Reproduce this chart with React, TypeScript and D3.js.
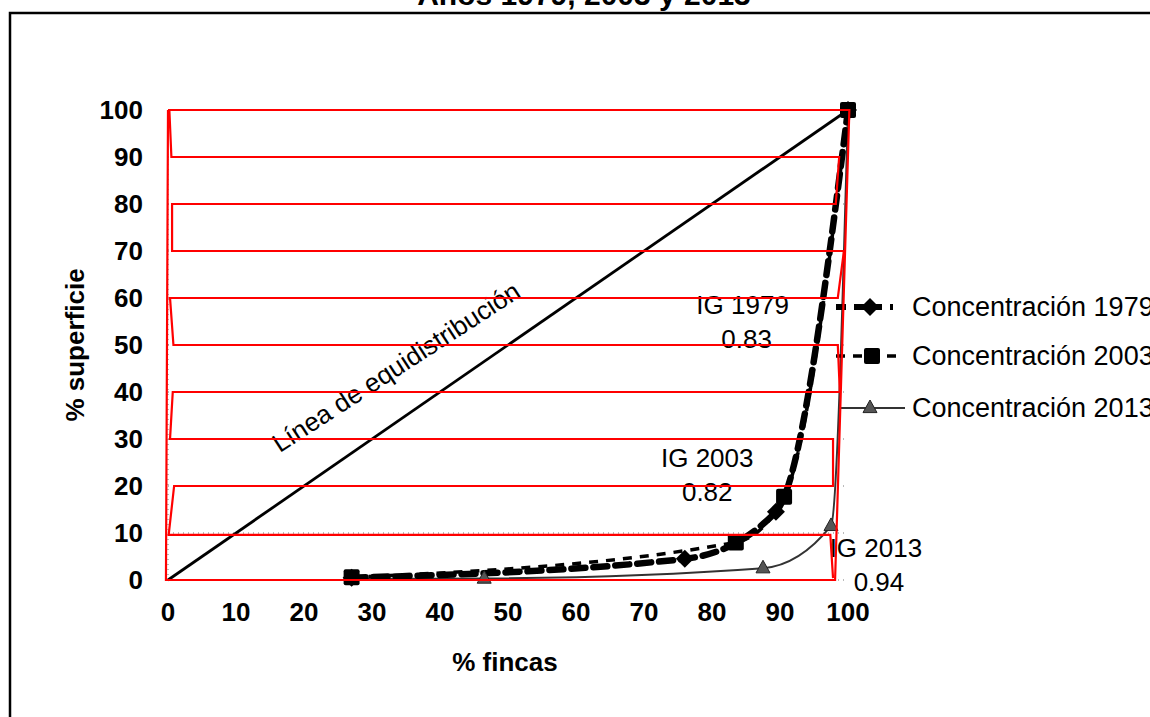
import React from 'react';
import * as d3 from 'd3';

const xTicks = [0, 10, 20, 30, 40, 50, 60, 70, 80, 90, 100];
const yTicks = [0, 10, 20, 30, 40, 50, 60, 70, 80, 90, 100];

const seriesNames = ['Concentración 1979', 'Concentración 2003', 'Concentración 2013'];
const s1979: [number, number][] = [[27, 0.5], [76, 4.5], [89.4, 14.5], [100, 100]];
const s2003: [number, number][] = [[27, 0.6], [83.5, 8], [90.6, 17.7], [100, 100]];
const s2013: [number, number][] = [[27, 0.2], [46.5, 0.3], [87.5, 2.5], [97.5, 11.5], [100, 100]];
const equidistribution: [number, number][] = [[0, 0], [100, 100]];

const giniLabels = [
  { name: 'IG 1979', value: '0.83', x: 84.5, y: 58.5 },
  { name: 'IG 2003', value: '0.82', x: 79.3, y: 26 },
  { name: 'IG 2013', value: '0.94', x: 97.3, y: 6.9 },
];

// red overlay outlines (data units)
const redOuter: [number, number][] = [[0, 100], [100.2, 100], [98.1, 0], [-0.3, 0], [0, 100]];
const redSerpentine: [number, number][] = [
  [0.2, 100], [0.5, 90], [98.7, 90], [98.2, 80], [0.6, 80], [0.6, 70], [99.4, 70],
  [98.5, 60], [0.3, 60], [0.8, 50], [98.5, 50], [98.8, 40], [0.7, 40], [0.3, 30],
  [97.8, 30], [97.8, 20], [0.9, 20], [0.1, 9.6], [97.4, 9.6], [97.8, 0.4],
];

const FONT = "Arial, 'Liberation Sans', sans-serif";

export default function App() {
  const x = d3.scaleLinear().domain([0, 100]).range([168, 848]);
  const y = d3.scaleLinear().domain([0, 100]).range([580, 110]);

  const curve = d3.line<[number, number]>().x(d => x(d[0])).y(d => y(d[1])).curve(d3.curveMonotoneX);
  const straight = d3.line<[number, number]>().x(d => x(d[0])).y(d => y(d[1]));

  const diamond = (cx: number, cy: number, r: number) =>
    `M${cx},${cy - r}L${cx + r},${cy}L${cx},${cy + r}L${cx - r},${cy}Z`;
  const tri = (cx: number, cy: number, r: number) =>
    `M${cx},${cy - r}L${cx + r},${cy + r * 0.8}L${cx - r},${cy + r * 0.8}Z`;

  const legendY = [307, 356, 408];

  return (
    <svg width={1150} height={717} style={{ position: 'absolute', left: 0, top: 0, background: '#fff' }}>
      <rect x={0} y={0} width={1150} height={717} fill="#fff" />
      <text x={584} y={5} textAnchor="middle" fontFamily={FONT} fontWeight="bold" fontSize={30}>Años 1979, 2003 y 2013</text>
      <rect x={10} y={13} width={1160} height={720} fill="none" stroke="#000" strokeWidth={2.5} />

      {/* gridlines */}
      {yTicks.map(t => (
        <line key={'g' + t} x1={x(0)} x2={x(100)} y1={y(t)} y2={y(t)} stroke="#777" strokeWidth={1} strokeDasharray="1,4" />
      ))}
      <line x1={x(0)} x2={x(0)} y1={y(0)} y2={y(100)} stroke="#777" strokeWidth={1} strokeDasharray="1,4" />

      {/* tick labels */}
      {yTicks.map(t => (
        <text key={'y' + t} x={143} y={y(t) + 9} textAnchor="end" fontFamily={FONT} fontWeight="bold" fontSize={26}>{t}</text>
      ))}
      {xTicks.map(t => (
        <text key={'x' + t} x={x(t)} y={621} textAnchor="middle" fontFamily={FONT} fontWeight="bold" fontSize={26}>{t}</text>
      ))}
      <text x={505} y={671} textAnchor="middle" fontFamily={FONT} fontWeight="bold" fontSize={26}>% fincas</text>
      <text transform="translate(84,345) rotate(-90)" textAnchor="middle" fontFamily={FONT} fontWeight="bold" fontSize={26}>% superficie</text>

      {/* equidistribution line */}
      <path d={straight(equidistribution) || ''} fill="none" stroke="#000" strokeWidth={2.8} />
      <text transform="translate(396,367) rotate(-33)" y={9} textAnchor="middle" fontFamily={FONT} fontSize={26}>Línea de equidistribución</text>

      {/* series */}
      <path d={curve(s2013) || ''} fill="none" stroke="#333" strokeWidth={2} />
      <path d={curve(s2003) || ''} fill="none" stroke="#000" strokeWidth={3.5} strokeDasharray="9,8" />
      <path d={curve(s1979) || ''} fill="none" stroke="#000" strokeWidth={6.5} strokeDasharray="14,8" strokeLinecap="round" />
      {s2013.map((d, i) => (
        <path key={'t' + i} d={tri(x(d[0]), y(d[1]) - 1, 7)} fill="#555" stroke="#222" strokeWidth={1} />
      ))}
      {s2003.map((d, i) => (
        <rect key={'s' + i} x={x(d[0]) - 8} y={y(d[1]) - 8} width={16} height={16} fill="#000" rx={2} />
      ))}
      {s1979.map((d, i) => (
        <path key={'d' + i} d={diamond(x(d[0]), y(d[1]), 9)} fill="#000" />
      ))}

      {/* Gini labels */}
      {giniLabels.map((g, i) => (
        <g key={'ig' + i} fontFamily={FONT} fontSize={26}>
          <text x={x(g.x)} y={y(g.y) + 9} textAnchor={i === 2 ? 'start' : 'middle'}>{g.name}</text>
          <text x={i === 2 ? x(g.x) + 24 : x(g.x) + (i === 0 ? 4 : 0)} y={y(g.y) + 43} textAnchor={i === 2 ? 'start' : 'middle'}>{g.value}</text>
        </g>
      ))}

      {/* legend */}
      <g fontFamily={FONT} fontSize={27}>
        <line x1={836} x2={893} y1={legendY[0]} y2={legendY[0]} stroke="#000" strokeWidth={6} strokeDasharray="10,8" />
        <path d={diamond(870, legendY[0], 9)} fill="#000" />
        <text x={912} y={legendY[0] + 9}>{seriesNames[0]}</text>

        <line x1={836} x2={900} y1={legendY[1]} y2={legendY[1]} stroke="#000" strokeWidth={3.5} strokeDasharray="9,8" />
        <rect x={864} y={legendY[1] - 8} width={16} height={16} fill="#000" rx={2} />
        <text x={912} y={legendY[1] + 9}>{seriesNames[1]}</text>

        <line x1={838} x2={905} y1={legendY[2]} y2={legendY[2]} stroke="#333" strokeWidth={2} />
        <path d={tri(870, legendY[2] - 1, 7)} fill="#555" stroke="#222" strokeWidth={1} />
        <text x={912} y={legendY[2] + 9}>{seriesNames[2]}</text>
      </g>

      {/* red overlay */}
      <path d={straight(redOuter) || ''} fill="none" stroke="#ff0000" strokeWidth={2.2} />
      <path d={straight(redSerpentine) || ''} fill="none" stroke="#ff0000" strokeWidth={2.2} />
    </svg>
  );
}
